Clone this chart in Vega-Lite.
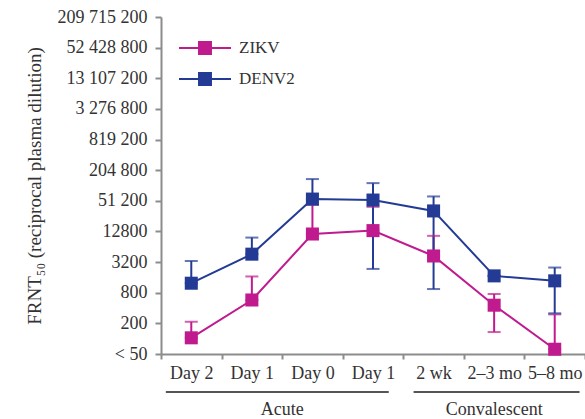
{
  "$schema": "https://vega.github.io/schema/vega-lite/v6.json",
  "autosize": "none",
  "width": 424,
  "height": 337,
  "padding": {"left": 161, "top": 17, "right": 0, "bottom": 65},
  "config": {
    "font": "Liberation Serif",
    "view": {"stroke": null},
    "axis": {"grid": false},
    "text": {"font": "Liberation Serif"}
  },
  "datasets": {
    "obs": [
      {"virus": "ZIKV", "time": "Day -2", "gmt": 104, "lo": 104, "hi": 214},
      {"virus": "ZIKV", "time": "Day -1", "gmt": 576, "lo": 576, "hi": 1670},
      {"virus": "ZIKV", "time": "Day 0", "gmt": 11400, "lo": 11400, "hi": 42700},
      {"virus": "ZIKV", "time": "Day 1", "gmt": 13300, "lo": 13300, "hi": 39000},
      {"virus": "ZIKV", "time": "2 wk", "gmt": 4220, "lo": 4220, "hi": 10500},
      {"virus": "ZIKV", "time": "2–3 mo", "gmt": 455, "lo": 135, "hi": 755},
      {"virus": "ZIKV", "time": "5–8 mo", "gmt": 62, "lo": 62, "hi": 300},
      {"virus": "DENV2", "time": "Day -2", "gmt": 1230, "lo": 1230, "hi": 3370},
      {"virus": "DENV2", "time": "Day -1", "gmt": 4580, "lo": 4580, "hi": 9700},
      {"virus": "DENV2", "time": "Day 0", "gmt": 55400, "lo": 55400, "hi": 137000},
      {"virus": "DENV2", "time": "Day 1", "gmt": 53000, "lo": 2350, "hi": 114000},
      {"virus": "DENV2", "time": "2 wk", "gmt": 32400, "lo": 945, "hi": 62400},
      {"virus": "DENV2", "time": "2–3 mo", "gmt": 1715, "lo": 1715, "hi": 1715},
      {"virus": "DENV2", "time": "5–8 mo", "gmt": 1370, "lo": 315, "hi": 2500}
    ],
    "groups": [
      {"group": "Acute", "start": "Day -2", "end": "Day 1", "mid": "Day 0"},
      {"group": "Convalescent", "start": "2 wk", "end": "5–8 mo", "mid": "2–3 mo"}
    ]
  },
  "layer": [
    {
      "data": {"name": "obs"},
      "encoding": {
        "x": {
          "field": "time",
          "type": "nominal",
          "scale": {"type": "band", "domain": ["Day -2", "Day -1", "Day 0", "Day 1", "2 wk", "2–3 mo", "5–8 mo"], "paddingInner": 0, "paddingOuter": 0},
          "axis": {
            "title": null, "labelAngle": 0, "tickBand": "extent", "tickSize": 5, "labelPadding": 5,
            "labelExpr": "replace(datum.label, '-', '')",
            "labelFont": "Liberation Serif", "labelFontSize": 18, "labelColor": "#333333",
            "domainColor": "#8c8c8c", "domainWidth": 2, "tickColor": "#8c8c8c", "tickWidth": 2
          }
        },
        "y": {
          "field": "gmt",
          "type": "quantitative",
          "scale": {"type": "log", "base": 4, "domain": [50, 209715200], "nice": false},
          "axis": {
            "title": "FRNT₅₀ (reciprocal plasma dilution)",
            "values": [50, 200, 800, 3200, 12800, 51200, 204800, 819200, 3276800, 13107200, 52428800, 209715200],
            "labelExpr": "datum.value <= 50 ? '< 50' : (datum.value < 50000 ? format(datum.value, 'd') : replace(format(datum.value, ','), /,/g, ' '))",
            "tickSize": 6,
            "labelPadding": 8,
            "titlePadding": 13,
            "labelFlush": false,
            "labelOverlap": false,
            "labelFont": "Liberation Serif", "labelFontSize": 18, "labelColor": "#333333",
            "titleFont": "Liberation Serif", "titleFontSize": 19, "titleFontWeight": "normal", "titleColor": "#333333",
            "domainColor": "#8c8c8c", "domainWidth": 2, "tickColor": "#8c8c8c", "tickWidth": 2
          }
        },
        "color": {
          "field": "virus",
          "type": "nominal",
          "scale": {"domain": ["ZIKV", "DENV2"], "range": ["#BF1B8E", "#243B95"]},
          "legend": {
            "orient": "none",
            "legendX": 30,
            "legendY": 17,
            "title": null,
            "symbolType": "M-2,0H2M-0.46,-0.46H0.46V0.46H-0.46Z",
            "symbolSize": 676,
            "symbolStrokeWidth": 2,
            "labelFont": "Liberation Serif",
            "labelFontSize": 17,
            "labelColor": "#333333",
            "labelOffset": 20,
            "rowPadding": 7,
            "encode": {"symbols": {"update": {"fill": {"scale": "color", "field": "value"}, "stroke": {"scale": "color", "field": "value"}, "opacity": {"value": 1}}}}
          }
        }
      },
      "layer": [
        {
          "mark": {"type": "rule", "strokeWidth": 2},
          "encoding": {"y": {"field": "lo", "type": "quantitative"}, "y2": {"field": "hi"}}
        },
        {
          "mark": {"type": "tick", "thickness": 2, "size": 13, "orient": "horizontal"},
          "encoding": {"y": {"field": "hi", "type": "quantitative"}}
        },
        {
          "mark": {"type": "tick", "thickness": 2, "size": 13, "orient": "horizontal"},
          "encoding": {"y": {"field": "lo", "type": "quantitative"}}
        },
        {
          "mark": {"type": "line", "strokeWidth": 2},
          "encoding": {}
        },
        {
          "mark": {"type": "point", "shape": "square", "filled": true, "size": 170, "opacity": 1},
          "encoding": {}
        }
      ]
    },
    {
      "data": {"name": "groups"},
      "transform": [{"filter": "datum.group == 'Acute'"}],
      "mark": {"type": "rule", "strokeWidth": 2, "color": "#555555", "clip": false},
      "encoding": {
        "x": {"field": "start", "type": "nominal", "bandPosition": 0.08},
        "x2": {"field": "end", "bandPosition": 0.76},
        "y": {"datum": 9, "type": "quantitative"}
      }
    },
    {
      "data": {"name": "groups"},
      "transform": [{"filter": "datum.group == 'Convalescent'"}],
      "mark": {"type": "rule", "strokeWidth": 2, "color": "#555555", "clip": false},
      "encoding": {
        "x": {"field": "start", "type": "nominal", "bandPosition": 0.17},
        "x2": {"field": "end", "bandPosition": 0.91},
        "y": {"datum": 9, "type": "quantitative"}
      }
    },
    {
      "data": {"name": "groups"},
      "transform": [{"filter": "datum.group == 'Acute'"}],
      "mark": {"type": "text", "font": "Liberation Serif", "fontSize": 18, "color": "#333333", "baseline": "middle", "clip": false},
      "encoding": {
        "x": {"field": "mid", "type": "nominal", "bandPosition": 0},
        "y": {"datum": 4, "type": "quantitative"},
        "text": {"field": "group"}
      }
    },
    {
      "data": {"name": "groups"},
      "transform": [{"filter": "datum.group == 'Convalescent'"}],
      "mark": {"type": "text", "font": "Liberation Serif", "fontSize": 18, "color": "#333333", "baseline": "middle", "clip": false},
      "encoding": {
        "x": {"field": "mid", "type": "nominal", "bandPosition": 0.5},
        "y": {"datum": 4, "type": "quantitative"},
        "text": {"field": "group"}
      }
    }
  ]
}
